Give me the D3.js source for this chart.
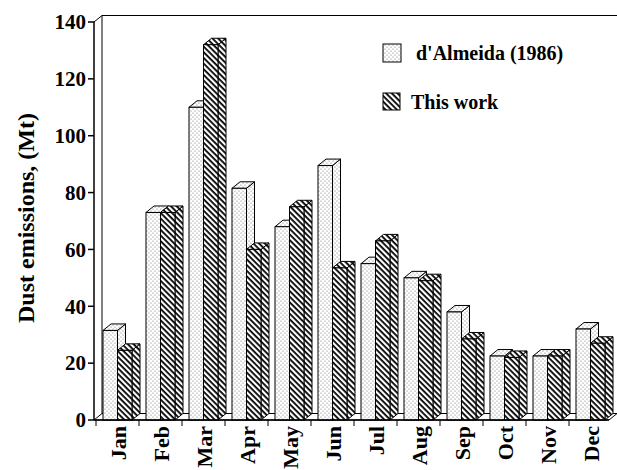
<!DOCTYPE html>
<html lang="en">
<head>
  <meta charset="UTF-8">
  <title>Dust emissions</title>
  <script src="https://cdn.jsdelivr.net/npm/d3@7/dist/d3.min.js"></script>
  <style>
    body{ margin:0; background:#fff; }
    text{ font-family:"Liberation Serif","Times New Roman",serif; font-weight:bold; fill:#000; }
    .bar{ stroke:#000; stroke-width:1; }
  </style>
</head>
<body>
  <svg></svg>
  <script>
  var months = ["Jan","Feb","Mar","Apr","May","Jun","Jul","Aug","Sep","Oct","Nov","Dec"],
    almeida = [31.5, 73, 110, 81.5, 68, 89.5, 55, 50, 38, 22.5, 22.5, 32],
    thisWork = [24.5, 73, 132, 60, 75, 53.5, 63, 49, 28.5, 22, 22.5, 27],
    yTicks = [0, 20, 40, 60, 80, 100, 120, 140],
    seriesNames = ["d'Almeida (1986)", "This work"];

  var W = 617, H = 470,
    DX = 8, DY = 6.5,   // depth offset for the 3d look
    svg = d3.select("svg").attr("width", W).attr("height", H);

  var defs = svg.append("defs");
  var dots = defs.append("pattern").attr("id","dots")
    .attr("patternUnits","userSpaceOnUse").attr("width",4).attr("height",4);
  dots.append("rect").attr("width",4).attr("height",4).attr("fill","#fff");
  dots.append("circle").attr("cx",1).attr("cy",1).attr("r",0.5).attr("fill","#555");
  dots.append("circle").attr("cx",3).attr("cy",3).attr("r",0.5).attr("fill","#555");

  var hatch = defs.append("pattern").attr("id","hatch")
    .attr("patternUnits","userSpaceOnUse").attr("width",4).attr("height",4)
    .attr("patternTransform","rotate(45)");
  hatch.append("rect").attr("width",4).attr("height",4).attr("fill","#fff");
  hatch.append("rect").attr("width",4).attr("height",1.8).attr("fill","#000");

  var fills = ["url(#dots)", "url(#hatch)"];

  var y = d3.scaleLinear().domain([0, 140]).range([420, 22]);
  var x0 = d3.scaleBand().domain(months).range([96, 612]);
  var x1 = d3.scaleBand().domain([0, 1]).range([7, 36]);

  // back wall + floor
  var x0L = 94, y0 = y(0), yT = y(140);
  svg.append("path")
    .attr("d", "M"+x0L+","+yT+" L"+(x0L+DX)+","+(yT-DY)+" L"+W+","+(yT-DY)
      +" M"+(x0L+DX)+","+(yT-DY)+" L"+(x0L+DX)+","+(y0-DY))
    .attr("fill","none").attr("stroke","#000").attr("stroke-width",1);
  svg.append("path")
    .attr("d", "M"+x0L+","+y0+" L"+(x0L+DX)+","+(y0-DY)+" L"+(W)+","+(y0-DY)
      +" L"+(W-DX)+","+y0+" Z")
    .attr("fill","#fff").attr("stroke","#000").attr("stroke-width",1);

  // bars
  var data = months.map(function(m, i){ return {m:m, v:[almeida[i], thisWork[i]]}; });
  var groups = svg.selectAll("g.month").data(data).enter().append("g").attr("class","month");
  groups.each(function(d){
    var g = d3.select(this);
    [0, 1].forEach(function(s){
      var xl = x0(d.m) + x1(s), w = x1.bandwidth(), yt = y(d.v[s]);
      var xr = xl + w;
      // side
      g.append("path").attr("class","bar").attr("fill",fills[s])
        .attr("d","M"+xr+","+y0+" L"+(xr+DX)+","+(y0-DY)+" L"+(xr+DX)+","+(yt-DY)+" L"+xr+","+yt+" Z");
      // top
      g.append("path").attr("class","bar").attr("fill",fills[s])
        .attr("d","M"+xl+","+yt+" L"+(xl+DX)+","+(yt-DY)+" L"+(xr+DX)+","+(yt-DY)+" L"+xr+","+yt+" Z");
      // front
      g.append("rect").attr("class","bar").attr("fill",fills[s])
        .attr("x",xl).attr("y",yt).attr("width",w).attr("height",y0-yt);
    });
  });

  // y axis
  var yAxis = svg.append("g");
  yAxis.append("line").attr("x1",x0L).attr("x2",x0L).attr("y1",yT).attr("y2",y0)
    .attr("stroke","#000").attr("stroke-width",1.5);
  yTicks.forEach(function(t){
    yAxis.append("line").attr("x1",x0L-6).attr("x2",x0L).attr("y1",y(t)).attr("y2",y(t))
      .attr("stroke","#000").attr("stroke-width",1.5);
    yAxis.append("text").attr("x",x0L-8).attr("y",y(t)).attr("dy","0.35em")
      .attr("text-anchor","end").style("font-size","21px").text(t);
  });

  // x axis
  var xAxis = svg.append("g");
  xAxis.append("line").attr("x1",x0L).attr("x2",W-DX).attr("y1",y0).attr("y2",y0)
    .attr("stroke","#000").attr("stroke-width",1.5);
  months.forEach(function(m){
    var xs = x0(m);
    xAxis.append("line").attr("x1",xs).attr("x2",xs).attr("y1",y0).attr("y2",y0+6)
      .attr("stroke","#000").attr("stroke-width",1);
    xAxis.append("text")
      .attr("transform","translate("+(xs + x0.bandwidth()/2 + 1)+","+(y0+6)+")rotate(-90)")
      .attr("dy","0.35em").attr("text-anchor","end").style("font-size","22px").text(m);
  });

  // y label
  svg.append("text").attr("transform","translate(26,218)rotate(-90)")
    .attr("dy","0.35em").attr("text-anchor","middle").style("font-size","24px")
    .text("Dust emissions, (Mt)");

  // legend
  var leg = svg.append("g");
  leg.append("rect").attr("x",383).attr("y",44).attr("width",18).attr("height",18)
    .attr("fill",fills[0]).attr("stroke","#000");
  leg.append("text").attr("x",416).attr("y",60).style("font-size","20px").text(seriesNames[0]);
  leg.append("rect").attr("x",383).attr("y",93).attr("width",17).attr("height",17)
    .attr("fill",fills[1]).attr("stroke","#000");
  leg.append("text").attr("x",411).attr("y",109).style("font-size","20px").text(seriesNames[1]);
  </script>
</body>
</html>
